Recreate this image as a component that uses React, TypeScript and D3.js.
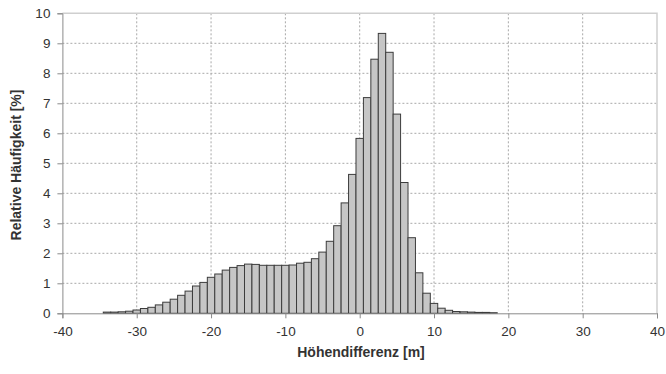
import { useEffect, useRef } from "react";
import * as d3 from "d3";

const width = 666;
const height = 374;
const plot = { left: 62.4, right: 657, top: 13.3, bottom: 313.3 };

// bin centres [m] and relative frequency [%]
const binCenters = [
  -34, -33, -32, -31, -30, -29, -28, -27, -26, -25, -24, -23, -22, -21, -20, -19, -18, -17,
  -16, -15, -14, -13, -12, -11, -10, -9, -8, -7, -6, -5, -4, -3, -2, -1, 0, 1, 2, 3, 4, 5, 6,
  7, 8, 9, 10, 11, 12, 13, 14, 15, 16, 17, 18,
];
const frequencies = [
  0.04, 0.04, 0.05, 0.07, 0.11, 0.16, 0.2, 0.28, 0.37, 0.47, 0.6, 0.74, 0.91, 1.03, 1.2, 1.31,
  1.44, 1.53, 1.59, 1.64, 1.63, 1.6, 1.6, 1.6, 1.6, 1.61, 1.67, 1.7, 1.82, 2.04, 2.4, 2.92,
  3.68, 4.63, 5.83, 7.19, 8.47, 9.33, 8.7, 6.64, 4.36, 2.52, 1.35, 0.67, 0.33, 0.17, 0.1, 0.06,
  0.05, 0.04, 0.03, 0.03, 0.02,
];
const xTicks = [-40, -30, -20, -10, 0, 10, 20, 30, 40];
const yTicks = [0, 1, 2, 3, 4, 5, 6, 7, 8, 9, 10];
const xTitle = "Höhendifferenz [m]";
const yTitle = "Relative Häufigkeit [%]";

const font = "'Liberation Sans', Arial, sans-serif";

const xScale = d3.scaleLinear().domain([-40, 40]).range([plot.left, plot.right]);
const yScale = d3.scaleLinear().domain([0, 10]).range([plot.bottom, plot.top]);

// plain hyphen like the original, not d3's unicode minus
const fmt = (d: d3.NumberValue) => String(d);

const App = () => {
  const xAxisRef = useRef(null);
  const yAxisRef = useRef(null);

  useEffect(() => {
    if (xAxisRef.current) {
      const g = d3.select<SVGGElement, unknown>(xAxisRef.current);
      g.call(d3.axisBottom(xScale).tickValues(xTicks).tickFormat(fmt).tickSize(5).tickPadding(8));
      g.select(".domain").attr("stroke", "#8a8a8a");
      g.selectAll(".tick line").attr("stroke", "#8a8a8a");
      g.selectAll(".tick text")
        .attr("fill", "#333")
        .style("font-family", font)
        .style("font-size", "13.5px");
    }
    if (yAxisRef.current) {
      const g = d3.select<SVGGElement, unknown>(yAxisRef.current);
      g.call(d3.axisLeft(yScale).tickValues(yTicks).tickFormat(fmt).tickSize(5).tickPadding(7));
      g.select(".domain").attr("stroke", "#8a8a8a");
      g.selectAll(".tick line").attr("stroke", "#8a8a8a");
      g.selectAll(".tick text")
        .attr("fill", "#333")
        .style("font-family", font)
        .style("font-size", "13.5px");
    }
  }, []);

  return (
    <svg
      width={width}
      height={height}
      style={{ position: "absolute", left: 0, top: 0, background: "#fff" }}
    >
      {/* grid */}
      {xTicks.slice(1, -1).map((t) => (
        <line
          key={"gx" + t}
          x1={xScale(t)}
          x2={xScale(t)}
          y1={plot.top}
          y2={plot.bottom}
          stroke="#a8a8a8"
          strokeDasharray="2,2"
        />
      ))}
      {yTicks.slice(1, -1).map((t) => (
        <line
          key={"gy" + t}
          x1={plot.left}
          x2={plot.right}
          y1={yScale(t)}
          y2={yScale(t)}
          stroke="#a8a8a8"
          strokeDasharray="2,2"
        />
      ))}
      {/* plot border */}
      <path
        d={`M${plot.left},${plot.top}H${plot.right}V${plot.bottom}`}
        fill="none"
        stroke="#cfcfcf"
        strokeWidth={1.5}
      />
      {/* bars */}
      {binCenters.map((c, i) => (
        <rect
          key={c}
          x={xScale(c - 0.5)}
          y={yScale(frequencies[i])}
          width={xScale(c + 0.5) - xScale(c - 0.5)}
          height={yScale(0) - yScale(frequencies[i])}
          fill="#c6c6c6"
          stroke="#3c3c3c"
          strokeWidth={1}
        />
      ))}
      <g ref={xAxisRef} transform={`translate(0, ${plot.bottom})`} />
      <g ref={yAxisRef} transform={`translate(${plot.left}, 0)`} />
      <text
        x={361}
        y={357}
        textAnchor="middle"
        fontFamily={font}
        fontSize={14}
        fontWeight="bold"
        fill="#333"
      >
        {xTitle}
      </text>
      <text
        transform={`translate(21, 165) rotate(-90)`}
        textAnchor="middle"
        fontFamily={font}
        fontSize={14}
        fontWeight="bold"
        fill="#333"
      >
        {yTitle}
      </text>
    </svg>
  );
};

export default App;
